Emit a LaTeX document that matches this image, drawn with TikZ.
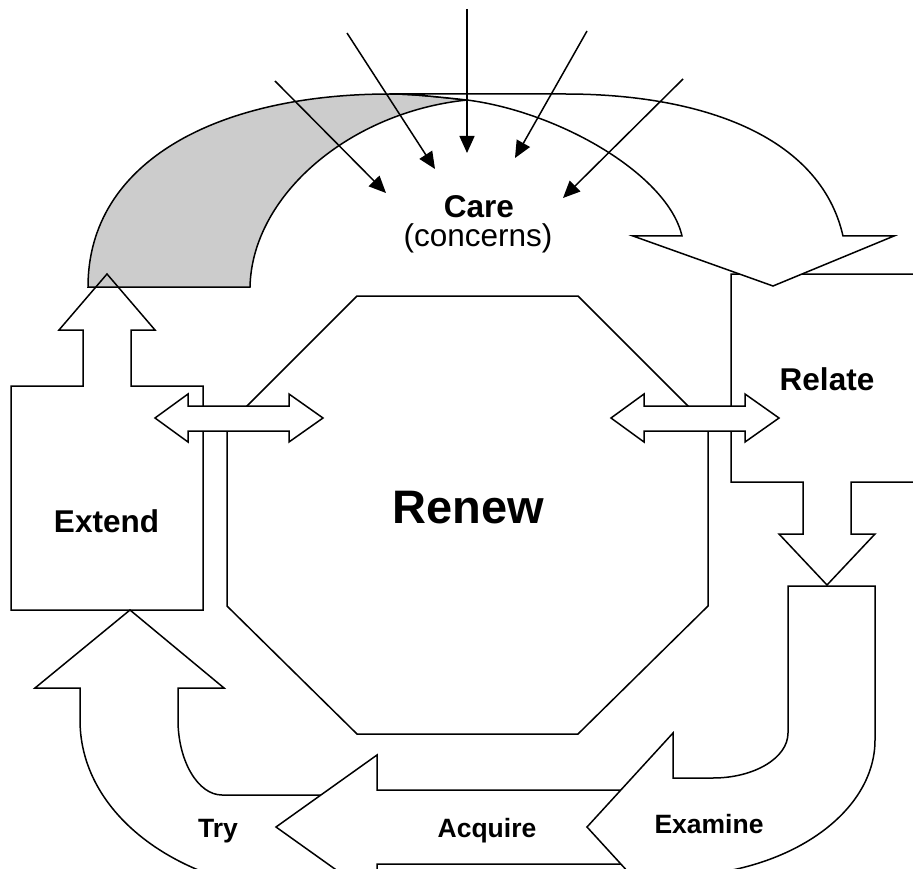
\documentclass[tikz,border=0pt]{standalone}
\usepackage{fontspec}
\setmainfont{Liberation Sans}
\usetikzlibrary{arrows.meta}
\begin{document}
\begin{tikzpicture}[x=1pt,y=-1pt,line width=1.5pt,line join=miter,
  outline/.style={draw=black},
  solid shape/.style={draw=black,fill=white},
  back face/.style={draw=black,fill=black!20},
  feed/.style={draw=black,-{Triangle[length=17pt,width=15pt]}},
  big label/.style={inner sep=0pt,anchor=base,font=\bfseries\fontsize{31.5}{36}\selectfont},
  plain label/.style={inner sep=0pt,anchor=base,font=\fontsize{31.5}{36}\selectfont},
  small label/.style={inner sep=0pt,anchor=base,font=\bfseries\fontsize{26.5}{30}\selectfont},
  centre label/.style={inner sep=0pt,anchor=base,font=\bfseries\fontsize{47}{52}\selectfont}]
\useasboundingbox (0,0) rectangle (913,869);
\clip (0,0) rectangle (913,869);

% shaded underside of the curved arrow
\path[back face] (88,287) .. controls (88,160) and (220,94) .. (390,94)
  .. controls (410,94) and (430,96) .. (467,100)
  .. controls (350,112) and (252,195) .. (250,287) -- cycle;

% Extend: box with an up arrow
\path[outline] (11,610) -- (11,386) -- (83,386) -- (83,330) -- (59,330) -- (107,274)
  -- (155,330) -- (131,330) -- (131,386) -- (203,386) -- (203,610) -- cycle;

% Relate: box with a down arrow
\path[solid shape] (731,274) -- (923,274) -- (923,482) -- (851,482) -- (851,534)
  -- (875,534) -- (827,585) -- (779,534) -- (803,534) -- (803,482) -- (731,482) -- cycle;

% front face of the curved arrow
\path[solid shape] (390,94) -- (565,94) .. controls (700,94) and (820,135) .. (843,236)
  -- (894,236) -- (773,286) -- (633,236) -- (682,236)
  .. controls (668,175) and (560,112) .. (467,100)
  .. controls (430,96) and (410,94) .. (390,94) -- cycle;

% Renew octagon
\path[outline] (357,296) -- (578,296) -- (708,426) -- (708,606) -- (578,734)
  -- (357,734) -- (227,606) -- (227,426) -- cycle;

% double arrows
\path[solid shape] (155,418) -- (188,394) -- (188,406) -- (289,406) -- (289,394)
  -- (323,418) -- (289,442) -- (289,431) -- (188,431) -- (188,442) -- cycle;
\path[solid shape] (611,418) -- (644,394) -- (644,406) -- (745,406) -- (745,394)
  -- (779,418) -- (745,442) -- (745,431) -- (644,431) -- (644,442) -- cycle;

% Try: U-turn arrow up into Extend
\path[solid shape] (80,688) -- (35,688) -- (130,610) -- (224,688) -- (178,688) -- (178,720)
  .. controls (178,761) and (198,795) .. (222,795) -- (350,795) -- (350,893) -- (317,893)
  .. controls (190,893) and (80,820) .. (80,720) -- cycle;

% Acquire: left arrow
\path[solid shape] (377,755) -- (276,827) -- (377,899) -- (377,864) -- (650,864)
  -- (650,790) -- (377,790) -- cycle;

% Examine: U-turn arrow from the right
\path[solid shape] (673,876) -- (673,921) -- (587,827) -- (673,733) -- (673,778) -- (713,778)
  .. controls (754,778) and (788,758) .. (788,733) -- (788,586) -- (875,586) -- (875,740)
  .. controls (875,815) and (784,876) .. (673,876) -- cycle;

% inputs converging on Care
\coordinate (in1) at (275,81);  \coordinate (to1) at (386,193);
\coordinate (in2) at (347,33);  \coordinate (to2) at (435,169);
\coordinate (in3) at (467,9);   \coordinate (to3) at (467,153);
\coordinate (in4) at (587,31);  \coordinate (to4) at (515,158);
\coordinate (in5) at (683,79);  \coordinate (to5) at (563,198);
\foreach \i in {1,...,5} \draw[feed] (in\i) -- (to\i);

% labels
\node[big label] (care) at (479,218) {Care};
\node[plain label] (concerns) at (478,247) {(concerns)};
\node[centre label] (renew) at (468,523) {Renew};
\node[big label] (extend) at (106.5,532) {Extend};
\node[big label] (relate) at (827,390) {Relate};
\node[small label] (try) at (218,837) {Try};
\node[small label] (acquire) at (487,837) {Acquire};
\node[small label] (examine) at (709,833) {Examine};
\end{tikzpicture}
\end{document}
